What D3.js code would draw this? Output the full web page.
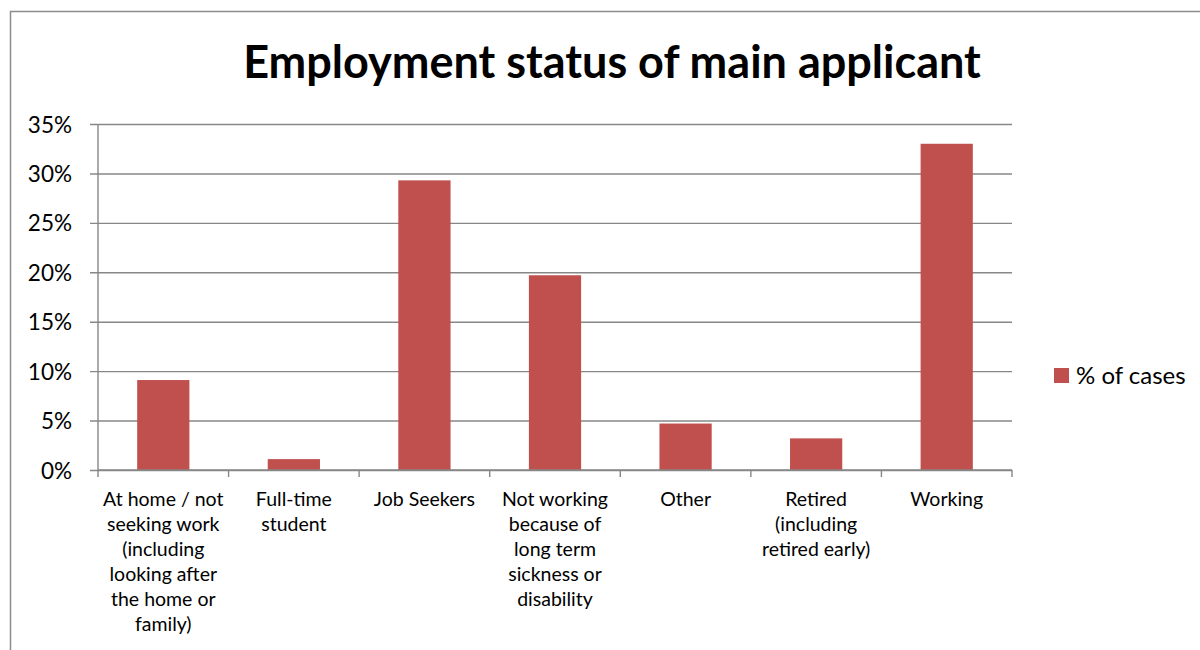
<!DOCTYPE html>
<html>
<head>
<meta charset="utf-8">
<script src="https://cdn.jsdelivr.net/npm/d3@7"></script>
<style>
  html, body { margin: 0; padding: 0; background: #fff; }
  svg { display: block; font-family: Lato, "Open Sans", sans-serif; }
</style>
</head>
<body>
<svg id="chart" width="1200" height="650"></svg>
<script>
// Employment status of main applicant — share of cases
const categories = [
  "At home / not seeking work (including looking after the home or family)",
  "Full-time student",
  "Job Seekers",
  "Not working because of long term sickness or disability",
  "Other",
  "Retired (including retired early)",
  "Working"
];
// Axis label line breaks for each category
const categoryLines = [
  ["At home / not", "seeking work", "(including", "looking after", "the home or", "family)"],
  ["Full-time", "student"],
  ["Job Seekers"],
  ["Not working", "because of", "long term", "sickness or", "disability"],
  ["Other"],
  ["Retired", "(including", "retired early)"],
  ["Working"]
];
const percentOfCases = [9.1, 1.1, 29.3, 19.7, 4.7, 3.2, 33.0];
const yTicks = [0, 5, 10, 15, 20, 25, 30, 35];
const seriesName = "% of cases";
const chartTitle = "Employment status of main applicant";

const svg = d3.select("#chart");
const plot = { left: 98, right: 1012, top: 124, bottom: 470 };
const barColor = "#C0504D";
const gridColor = "#878787";

// Outer chart frame (top and left edges visible)
svg.append("path")
  .attr("d", "M10.5,650 L10.5,11.5 L1200,11.5")
  .attr("fill", "none")
  .attr("stroke", "#8c8c8c")
  .attr("stroke-width", 1.5);

const x = d3.scaleBand()
  .domain(categories)
  .range([plot.left, plot.right])
  .paddingInner(0.6)
  .paddingOuter(0.3);

const y = d3.scaleLinear()
  .domain([0, 35])
  .range([plot.bottom, plot.top]);

// Title
svg.append("text")
  .attr("x", 612)
  .attr("y", 78)
  .attr("text-anchor", "middle")
  .attr("font-size", 45)
  .attr("font-weight", "bold")
  .attr("fill", "#000")
  .text(chartTitle);

// Horizontal gridlines + y tick labels
const yAxis = d3.axisLeft(y)
  .tickValues(yTicks)
  .tickSize(-(plot.right - plot.left))
  .tickSizeOuter(0)
  .tickPadding(26)
  .tickFormat(d => d + "%");

const gy = svg.append("g")
  .attr("transform", `translate(${plot.left},0)`)
  .call(yAxis);
gy.select(".domain").remove();
gy.selectAll(".tick line")
  .attr("x1", -8)
  .attr("stroke", gridColor)
  .attr("stroke-width", 1.4);
gy.selectAll(".tick text")
  .attr("font-family", "Lato, 'Open Sans', sans-serif")
  .attr("font-size", 22.5)
  .attr("fill", "#000")
  .attr("dy", "0.36em");

// Bars
svg.append("g")
  .selectAll("rect")
  .data(categories)
  .join("rect")
  .attr("x", d => x(d))
  .attr("width", x.bandwidth())
  .attr("y", (d, i) => y(percentOfCases[i]))
  .attr("height", (d, i) => y(0) - y(percentOfCases[i]))
  .attr("fill", barColor);

// Vertical axis line
svg.append("line")
  .attr("x1", plot.left).attr("x2", plot.left)
  .attr("y1", plot.top).attr("y2", plot.bottom)
  .attr("stroke", gridColor)
  .attr("stroke-width", 1.4);

// Category axis with tick marks at band boundaries
const step = x.step();
const boundaries = d3.range(categories.length + 1).map(i => plot.left + i * step);
const gx = svg.append("g");
gx.append("line")
  .attr("x1", plot.left).attr("x2", plot.right)
  .attr("y1", plot.bottom).attr("y2", plot.bottom)
  .attr("stroke", gridColor)
  .attr("stroke-width", 1.4);
gx.selectAll("line.tick")
  .data(boundaries)
  .join("line")
  .attr("class", "tick")
  .attr("x1", d => d).attr("x2", d => d)
  .attr("y1", plot.bottom).attr("y2", plot.bottom + 7)
  .attr("stroke", gridColor)
  .attr("stroke-width", 1.4);

// Multi-line category labels
const labels = svg.append("g")
  .attr("font-size", 19.5)
  .attr("fill", "#000")
  .attr("text-anchor", "middle");
categories.forEach((c, i) => {
  const t = labels.append("text")
    .attr("x", x(c) + x.bandwidth() / 2)
    .attr("y", 506);
  categoryLines[i].forEach((line, j) => {
    t.append("tspan")
      .attr("x", x(c) + x.bandwidth() / 2)
      .attr("dy", j === 0 ? 0 : 25)
      .text(line);
  });
});

// Legend
const legend = svg.append("g").attr("transform", "translate(1054,368)");
legend.append("rect")
  .attr("width", 15).attr("height", 15)
  .attr("fill", barColor);
legend.append("text")
  .attr("x", 22)
  .attr("y", 16)
  .attr("font-size", 24)
  .attr("fill", "#000")
  .text(seriesName);
</script>
</body>
</html>
